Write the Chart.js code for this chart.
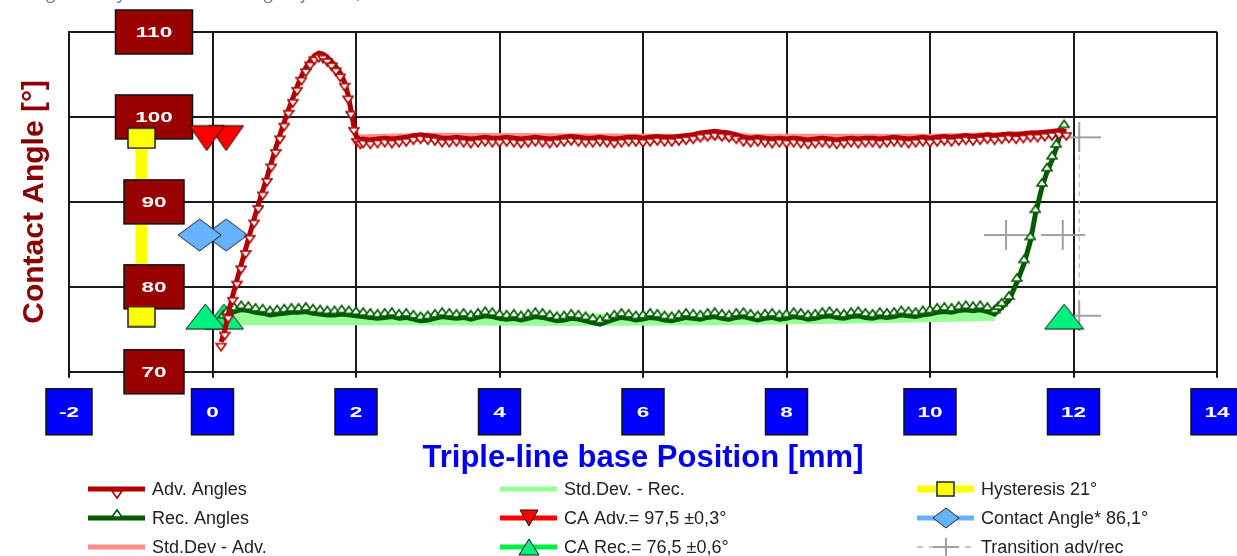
<!DOCTYPE html>
<html>
<head>
<meta charset="utf-8">
<script src="https://cdn.jsdelivr.net/npm/chart.js@4.4.1/dist/chart.umd.min.js"></script>
<style>
html,body{margin:0;padding:0;background:#fff;overflow:hidden}
#wrap{position:relative;width:1237px;height:556px}
#cap{position:absolute;left:34px;top:-20px;font:italic 18px "Open Sans",sans-serif;color:#777;white-space:nowrap}
canvas{display:block}
</style>
</head>
<body>
<div id="wrap">
<div id="cap">Figure 4: Dynamic contact angle of water, calculated results</div>
<canvas id="c" width="1237" height="556"></canvas>
</div>
<script>
// ── Data ──
const xTicks=[-2,0,2,4,6,8,10,12,14];
const yTicks=[70,80,90,100,110];

// advancing angles (x in mm, y in deg)
const advX=[0.12,0.17,0.22,0.28,0.34,0.40,0.46,0.52,0.58,0.64,0.70,0.76,0.82,0.88,0.94,1.00,1.06,1.12,1.18,1.24,1.30,1.36,1.42,1.48,1.54,1.60,1.66,1.72,1.78,1.84,1.89,1.93,1.97,2.01,2.06,
 2.1,2.2,2.3,2.4,2.5,2.6,2.7,2.8,2.9,3.0,3.1,3.2,3.3,3.4,3.5,3.6,3.7,3.8,3.9,4.0,4.1,4.2,4.3,4.4,4.5,4.6,4.7,4.8,4.9,5.0,
 5.1,5.2,5.3,5.4,5.5,5.6,5.7,5.8,5.9,6.0,6.1,6.2,6.3,6.4,6.5,6.6,6.7,6.8,6.9,7.0,7.1,7.2,7.3,7.4,7.5,7.6,7.7,7.8,7.9,8.0,
 8.1,8.2,8.3,8.4,8.5,8.6,8.7,8.8,8.9,9.0,9.1,9.2,9.3,9.4,9.5,9.6,9.7,9.8,9.9,10.0,10.1,10.2,10.3,10.4,10.5,10.6,10.7,10.8,10.9,11.0,
 11.1,11.2,11.3,11.4,11.5,11.6,11.7,11.8,11.9];
const advY=[73.5,74.8,76.8,78.9,80.8,82.6,84.4,86.2,88.0,89.7,91.3,92.9,94.6,96.3,97.9,99.4,100.9,102.2,103.6,104.8,105.8,106.6,107.2,107.5,107.4,107.0,106.5,105.9,105.2,104.1,102.6,100.8,98.9,97.6,97.3,
 97.4,97.3,97.4,97.5,97.4,97.5,97.6,97.8,97.9,97.8,97.7,97.5,97.5,97.6,97.5,97.4,97.5,97.6,97.5,97.5,97.6,97.5,97.4,97.5,97.6,97.5,97.4,97.5,97.6,97.7,
 97.6,97.5,97.5,97.6,97.5,97.4,97.5,97.6,97.6,97.5,97.6,97.7,97.6,97.6,97.7,97.8,97.9,98.1,98.2,98.3,98.2,98.1,97.9,97.6,97.5,97.6,97.5,97.4,97.5,97.4,
 97.5,97.4,97.3,97.4,97.5,97.4,97.3,97.4,97.5,97.4,97.5,97.5,97.4,97.5,97.6,97.5,97.4,97.5,97.6,97.5,97.6,97.7,97.6,97.7,97.8,97.7,97.8,97.9,97.8,97.9,
 98.0,97.9,98.0,98.1,98.1,98.2,98.3,98.4,98.3];

// receding angles
const recX=[0.15,0.2,0.3,0.4,0.5,0.6,0.7,0.8,0.9,1.0,1.1,1.2,1.3,1.4,1.5,1.6,1.7,1.8,1.9,2.0,2.1,2.2,2.3,2.4,2.5,2.6,2.7,2.8,2.9,3.0,
 3.1,3.2,3.3,3.4,3.5,3.6,3.7,3.8,3.9,4.0,4.1,4.2,4.3,4.4,4.5,4.6,4.7,4.8,4.9,5.0,5.1,5.2,5.3,5.4,5.5,5.6,5.7,5.8,5.9,6.0,
 6.1,6.2,6.3,6.4,6.5,6.6,6.7,6.8,6.9,7.0,7.1,7.2,7.3,7.4,7.5,7.6,7.7,7.8,7.9,8.0,8.1,8.2,8.3,8.4,8.5,8.6,8.7,8.8,8.9,9.0,
 9.1,9.2,9.3,9.4,9.5,9.6,9.7,9.8,9.9,10.0,10.1,10.2,10.3,10.4,10.5,10.6,10.7,10.8,10.9,
 10.95,11.0,11.1,11.21,11.31,11.4,11.47,11.56,11.63,11.7,11.76,11.8,11.87];
const recY=[76.2,76.6,77.1,77.3,77.2,77.0,76.9,76.7,76.8,76.9,77.0,77.0,77.1,76.9,76.8,76.7,76.7,76.8,76.7,76.6,76.5,76.4,76.3,76.4,76.5,76.3,76.4,76.2,76.0,76.1,
 76.3,76.5,76.4,76.3,76.4,76.2,76.4,76.6,76.5,76.3,76.2,76.3,76.1,76.3,76.5,76.4,76.2,76.0,76.1,76.3,76.2,76.0,75.8,75.6,75.9,76.2,76.4,76.3,76.1,76.2,
 76.4,76.3,76.1,76.0,76.2,76.4,76.3,76.2,76.4,76.5,76.3,76.2,76.4,76.5,76.3,76.1,76.3,76.4,76.2,76.3,76.5,76.4,76.2,76.3,76.5,76.6,76.4,76.3,76.5,76.6,
 76.4,76.3,76.5,76.4,76.5,76.7,76.6,76.5,76.7,76.8,77.0,77.1,77.0,77.2,77.3,77.2,77.3,77.1,76.8,
 77.2,77.6,78.4,80.5,82.7,85.4,88.6,91.7,93.5,94.9,96.3,97.6,98.6];

// std dev bands
const sdAdvX=[2.0,3.0,6.5,7.0,7.5,10.0,11.0,11.9];
const sdAdvY=[97.4,97.6,97.5,97.9,97.5,97.5,97.7,98.1];
const sdRecX=[0.2,1.5,3.0,5.0,7.0,9.0,10.9];
const sdRecY=[76.2,76.2,76.2,76.1,76.2,76.4,76.7];

// summary markers (left-most listed last so it sits on top)
const caAdvX=[0.19,-0.08], caAdvY=[97.5,97.5];
const caRecX=[11.87,0.16,-0.1], caRecY=[76.5,76.5,76.5];
const caStarX=[0.19,-0.18], caStarY=[86.1,86.1];
const hystX=[-0.99,-0.99], hystY=[97.5,76.5];
const transX=[12.08,12.08], transY=[97.6,76.6];
const transMidX=[11.06,11.85], transMidY=[86.1,86.1];

const C={adv:'#B00000',rec:'#005A00',sdAdv:'#FF8C8C',sdRec:'#98FF98',caAdv:'#FF0000',caRec:'#00F080',caRecLine:'#00F040',hyst:'#FFFF00',star:'#66B2FF',trans:'#A0A0A0'};
const FONT='"Liberation Sans", Arial, sans-serif';

const pts=(xs,ys)=>xs.map((x,i)=>({x,y:ys[i]}));

// ── marker images ──
function cnv(w,h){const c=document.createElement('canvas');c.width=w;c.height=h;return c}
function triMk(w,h,down,fill,stroke,shift,lw){
  const H=Math.ceil(h+4+Math.abs(shift)*2),W=w+2;
  const c=cnv(W,H),g=c.getContext('2d');
  const cy=H/2+shift,top=cy-h/2,bot=cy+h/2;
  g.beginPath();
  if(down){g.moveTo(1,top);g.lineTo(w+1,top);g.lineTo(W/2,bot)}
  else{g.moveTo(1,bot);g.lineTo(w+1,bot);g.lineTo(W/2,top)}
  g.closePath();g.fillStyle=fill;g.fill();g.strokeStyle=stroke;g.lineWidth=lw||1;g.stroke();
  return c;
}
function diaMk(w,h,fill,stroke){
  const c=cnv(w+2,h+2),g=c.getContext('2d');
  g.beginPath();g.moveTo(1,h/2+1);g.lineTo(w/2+1,1);g.lineTo(w+1,h/2+1);g.lineTo(w/2+1,h+1);g.closePath();
  g.fillStyle=fill;g.fill();g.strokeStyle=stroke;g.lineWidth=1;g.stroke();return c;
}
function rectMk(w,h,fill,stroke){
  const c=cnv(w+2,h+2),g=c.getContext('2d');
  g.fillStyle=fill;g.fillRect(1,1,w,h);g.strokeStyle=stroke;g.lineWidth=1.5;g.strokeRect(1,1,w,h);return c;
}
function crossMk(w,h,color){
  const c=cnv(w,h),g=c.getContext('2d');
  g.strokeStyle=color;g.lineWidth=2;g.beginPath();
  g.moveTo(0,h/2);g.lineTo(w,h/2);g.moveTo(w/2,0);g.lineTo(w/2,h);g.stroke();return c;
}
const mkAdv=triMk(10,7,true,'#fff',C.adv,5,1.6);
const mkRec=triMk(10,7,false,'#fff',C.rec,-5,1.6);
const mkCaAdv=triMk(35,25,true,C.caAdv,'#111',0);
const mkCaRec=triMk(39,25,false,C.caRec,'#111',0);
const mkStar=diaMk(43,32,C.star,'#222');
const mkHyst=rectMk(27,20,C.hyst,'#222');
const mkCross=crossMk(44,30,C.trans);
const lgCaAdv=triMk(18,16,true,C.caAdv,'#111',0);
const lgCaRec=triMk(20,16,false,C.caRec,'#111',0);
const lgStar=diaMk(26,20,C.star,'#222');
const lgHyst=rectMk(17,14,C.hyst,'#222');
const lgCross=crossMk(26,18,C.trans);

// ── tick boxes + legend ──
function tickBox(ctx,cx,cy,w,h,fill,txt){
  ctx.fillStyle=fill;ctx.fillRect(cx-w/2,cy-h/2,w,h);
  ctx.strokeStyle='#111';ctx.lineWidth=1.5;ctx.strokeRect(cx-w/2,cy-h/2,w,h);
  ctx.save();ctx.translate(cx,cy);ctx.scale(1.5,1);
  ctx.font='bold 15px '+FONT;ctx.fillStyle='#fff';ctx.textAlign='center';ctx.textBaseline='middle';
  ctx.fillText(txt,0,1);ctx.restore();
}
const HYST_LINE=3;
const boxPlugin={
  id:'boxes',
  afterDatasetDraw(chart,args){
    if(args.index!==HYST_LINE)return;
    const ctx=chart.ctx,y=chart.scales.y,a=chart.chartArea;
    yTicks.forEach(v=>{const t=String(v);tickBox(ctx,a.left+85,y.getPixelForValue(v),t.length>2?77:60,44,'#990000',t)});
  },
  afterDraw(chart){
    const ctx=chart.ctx,x=chart.scales.x,a=chart.chartArea;
    xTicks.forEach(v=>{const t=String(v);tickBox(ctx,x.getPixelForValue(v),a.bottom+40,t.length>1?(v<0?46:52):42,46,'#0000FF',t)});
    drawLegend(ctx);
  }
};

const legendRows=[489,518,547],legendCols=[88,500,917];
const legendItems=[
  {c:0,r:0,label:'Adv. Angles',color:C.adv,lw:5,mk:mkAdv},
  {c:0,r:1,label:'Rec. Angles',color:C.rec,lw:5,mk:mkRec},
  {c:0,r:2,label:'Std.Dev - Adv.',color:C.sdAdv,lw:5},
  {c:1,r:0,label:'Std.Dev. - Rec.',color:C.sdRec,lw:5},
  {c:1,r:1,label:'CA Adv.= 97,5 ±0,3°',color:C.caAdv,lw:5,mk:lgCaAdv},
  {c:1,r:2,label:'CA Rec.= 76,5 ±0,6°',color:C.caRecLine,lw:5,mk:lgCaRec},
  {c:2,r:0,label:'Hysteresis 21°',color:C.hyst,lw:7,mk:lgHyst},
  {c:2,r:1,label:'Contact Angle* 86,1°',color:C.star,lw:5,mk:lgStar},
  {c:2,r:2,label:'Transition adv/rec',color:'#C8C8C8',lw:2,dash:[6,6],mk:lgCross},
];
function drawLegend(ctx){
  legendItems.forEach(it=>{
    const x0=legendCols[it.c],y0=legendRows[it.r],len=57;
    ctx.save();
    ctx.strokeStyle=it.color;ctx.lineWidth=it.lw;ctx.setLineDash(it.dash||[]);
    ctx.beginPath();ctx.moveTo(x0,y0);ctx.lineTo(x0+len,y0);ctx.stroke();
    ctx.restore();
    if(it.mk)ctx.drawImage(it.mk,Math.round(x0+len/2-it.mk.width/2),Math.round(y0-it.mk.height/2));
    ctx.font='18px '+FONT;ctx.fillStyle='#222';ctx.textAlign='left';ctx.textBaseline='middle';
    ctx.fillText(it.label,x0+64,y0+1);
  });
}

// ── Chart ──
const base={showLine:true,pointRadius:0,tension:0,fill:false};
new Chart(document.getElementById('c'),{
  type:'scatter',
  data:{datasets:[
    {...base,label:'Std.Dev - Adv.',data:pts(sdAdvX,sdAdvY),borderColor:C.sdAdv,borderWidth:9,order:20},
    {...base,label:'Std.Dev. - Rec.',data:pts(sdRecX,sdRecY),borderColor:C.sdRec,borderWidth:12,order:19},
    {...base,label:'Transition adv/rec',data:pts(transX,transY),borderColor:'#C8C8C8',borderWidth:1.5,borderDash:[5,4],pointRadius:3,pointStyle:mkCross,order:18},
    {...base,label:'Hysteresis line',data:pts(hystX,hystY),borderColor:C.hyst,borderWidth:12,order:17},
    {...base,label:'Transition mid',data:pts(transMidX,transMidY),showLine:false,pointRadius:3,pointStyle:mkCross,order:16},
    {...base,label:'Hysteresis 21°',data:pts(hystX,hystY),showLine:false,pointRadius:3,pointStyle:mkHyst,order:8},
    {...base,label:'CA Adv.',data:pts(caAdvX,caAdvY),showLine:false,pointRadius:3,pointStyle:mkCaAdv,order:7},
    {...base,label:'CA Rec.',data:pts(caRecX,caRecY),showLine:false,pointRadius:3,pointStyle:mkCaRec,order:6},
    {...base,label:'Contact Angle*',data:pts(caStarX,caStarY),showLine:false,pointRadius:3,pointStyle:mkStar,order:5},
    {...base,label:'Rec. Angles',data:pts(recX,recY),borderColor:C.rec,borderWidth:5,pointRadius:3,pointStyle:mkRec,order:2},
    {...base,label:'Adv. Angles',data:pts(advX,advY),borderColor:C.adv,borderWidth:5,pointRadius:3,pointStyle:mkAdv,order:1},
  ]},
  options:{
    responsive:false,animation:false,devicePixelRatio:1,
    layout:{padding:{left:0,top:32,right:20,bottom:79}},
    plugins:{legend:{display:false},tooltip:{enabled:false}},
    scales:{
      x:{type:'linear',min:-2,max:14,
        ticks:{display:false,stepSize:2},
        grid:{color:'#1a1a1a',lineWidth:2,drawTicks:true,tickLength:6},
        border:{color:'#1a1a1a',width:2},
        title:{display:true,text:'Triple-line base Position [mm]',color:'#0000EE',font:{family:FONT,size:31,weight:'bold'},padding:{top:62,bottom:0}}},
      y:{type:'linear',min:70,max:110,
        ticks:{display:false,stepSize:10},
        grid:{color:'#1a1a1a',lineWidth:2,drawTicks:false},
        border:{color:'#1a1a1a',width:2},
        title:{display:true,text:'Contact Angle [°]',color:'#8B0000',font:{family:FONT,size:30,weight:'bold'},padding:{top:17,bottom:16}}}
    }
  },
  plugins:[boxPlugin]
});
</script>
</body>
</html>
